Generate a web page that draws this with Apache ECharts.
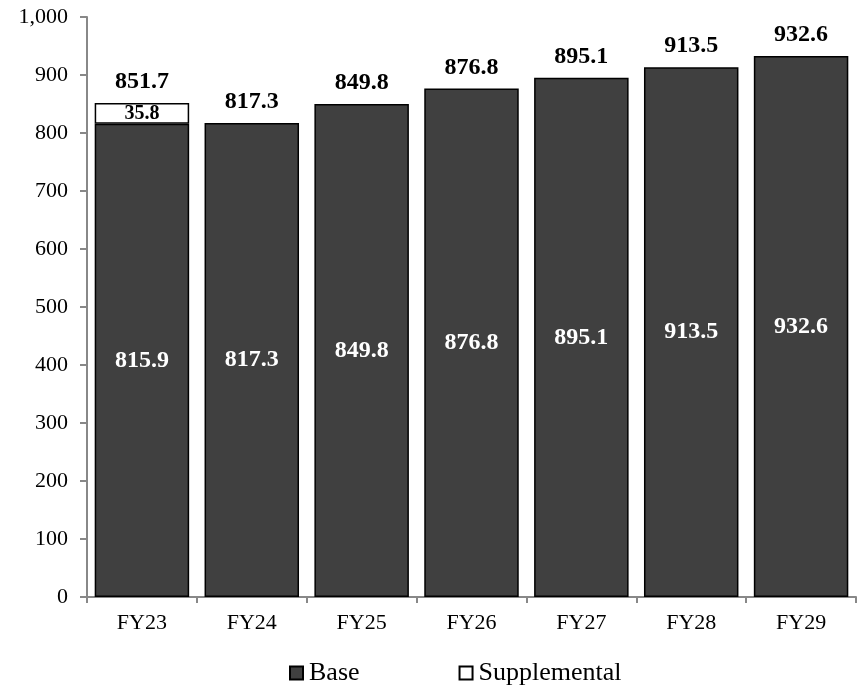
<!DOCTYPE html>
<html><head><meta charset="utf-8">
<script src="https://cdn.jsdelivr.net/npm/echarts@6/dist/echarts.min.js"></script>
<style>html,body{margin:0;padding:0;background:#fff}#c{width:857px;height:687px}</style>
</head><body><div id="c"></div>
<script>
const categories = ['FY23','FY24','FY25','FY26','FY27','FY28','FY29'];
const baseValues = [815.9, 817.3, 849.8, 876.8, 895.1, 913.5, 932.6];
const supplementalValues = [35.8, 0, 0, 0, 0, 0, 0];
const totals = [851.7, 817.3, 849.8, 876.8, 895.1, 913.5, 932.6];
const yTicks = [0,100,200,300,400,500,600,700,800,900,1000];

const font = 'Liberation Serif';
const chart = echarts.init(document.getElementById('c'));
chart.setOption({
  animation: false,
  textStyle: {fontFamily: font},
  grid: {left: 87, right: 1, top: 17, bottom: 90, containLabel: false},
  legend: {
    data: ['Base','Supplemental'],
    left: 284, top: 655,
    itemWidth: 13, itemHeight: 13, itemGap: 99,
    icon: 'rect',
    textStyle: {fontFamily: font, fontSize: 26, color: '#000', padding:[0,0,0,1]}
  },
  xAxis: {
    type: 'category', data: categories,
    axisLine: {lineStyle: {color: '#888', width: 2}},
    axisTick: {show: true, length: 6, lineStyle: {color: '#888', width: 2}},
    axisLabel: {fontFamily: font, fontSize: 22, color: '#000', margin: 15}
  },
  yAxis: {
    type: 'value', min: 0, max: 1000, interval: 100,
    axisLine: {show: true, lineStyle: {color: '#888', width: 2}},
    axisTick: {show: true, length: 7, lineStyle: {color: '#888', width: 2}},
    splitLine: {show: false},
    axisLabel: {fontFamily: font, fontSize: 22, color: '#000', margin: 19,
      formatter: v => yTicks.includes(v) ? v.toLocaleString('en-US') : ''}
  },
  series: [
    {
      name: 'Base', type: 'bar', stack: 't', data: baseValues,
      barCategoryGap: '14%',
      itemStyle: {color: '#404040', borderColor: '#000', borderWidth: 1.5},
      label: {show: true, position: 'inside', color: '#fff', fontFamily: font, fontWeight: 'bold', fontSize: 24,
        formatter: p => p.value.toFixed(1)}
    },
    {
      name: 'Supplemental', type: 'bar', stack: 't',
      data: supplementalValues.map(v => v > 0 ? v : {value: 0, itemStyle: {borderWidth: 0}}),
      itemStyle: {color: '#fff', borderColor: '#000', borderWidth: 1.5},
      label: {show: true, position: 'inside', color: '#000', fontFamily: font, fontWeight: 'bold', fontSize: 20,
        formatter: p => p.value > 0 ? p.value.toFixed(1) : ''}
    },
    {
      name: 'Total', type: 'bar', stack: 't', data: totals.map(() => 0),
      itemStyle: {color: 'transparent', borderWidth: 0},
      label: {show: true, position: 'top', distance: 9, color: '#000', fontFamily: font, fontWeight: 'bold', fontSize: 24,
        formatter: p => totals[p.dataIndex].toFixed(1)}
    }
  ]
});
</script></body></html>
